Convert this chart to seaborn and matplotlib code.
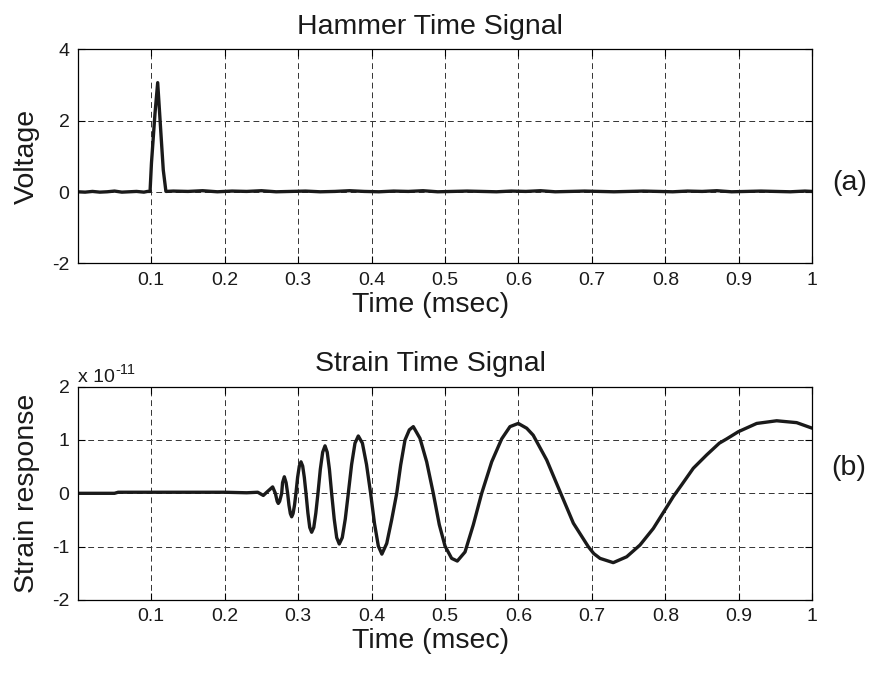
import matplotlib
matplotlib.use("Agg")
import matplotlib.pyplot as plt
import seaborn as sns
import pandas as pd

# ---------------- data ----------------
hammer_time = [0.0, 0.01, 0.02, 0.03, 0.04, 0.05, 0.06, 0.07, 0.08, 0.09, 0.095,
               0.0984, 0.1003, 0.1051, 0.1088, 0.1129, 0.1164, 0.120,
               0.13, 0.15, 0.17, 0.19, 0.21, 0.23, 0.25, 0.27, 0.29, 0.31, 0.33,
               0.35, 0.37, 0.39, 0.41, 0.43, 0.45, 0.47, 0.49, 0.51, 0.53, 0.55,
               0.57, 0.59, 0.61, 0.63, 0.65, 0.67, 0.69, 0.71, 0.73, 0.75, 0.77,
               0.79, 0.81, 0.83, 0.85, 0.87, 0.89, 0.91, 0.93, 0.95, 0.97, 0.99, 1.0]
hammer_volt = [0.01, 0.0, 0.02, 0.0, 0.01, 0.03, 0.0, 0.01, 0.02, 0.0, 0.02,
               0.02, 0.81, 2.2, 3.07, 1.74, 0.62, 0.02,
               0.03, 0.02, 0.04, 0.01, 0.03, 0.02, 0.04, 0.01, 0.02, 0.03, 0.01,
               0.02, 0.04, 0.02, 0.01, 0.03, 0.02, 0.04, 0.01, 0.02, 0.03, 0.02,
               0.01, 0.03, 0.02, 0.04, 0.01, 0.02, 0.03, 0.02, 0.01, 0.02, 0.03,
               0.02, 0.01, 0.03, 0.02, 0.04, 0.01, 0.02, 0.03, 0.02, 0.01, 0.03, 0.02]

strain_time = [0.0, 0.05, 0.055, 0.10, 0.15, 0.20, 0.23, 0.245, 0.2526, 0.258,
               0.2653, 0.269, 0.2715, 0.273, 0.2748, 0.2776, 0.2788, 0.2812, 0.2836,
               0.2857, 0.2875, 0.2894, 0.2912, 0.2931, 0.2951, 0.297,
               0.2993, 0.3016, 0.3039, 0.3062, 0.3084, 0.3107,
               0.3133, 0.3158, 0.3184, 0.3213, 0.3241, 0.327,
               0.3302, 0.3334, 0.3366, 0.3396, 0.3426, 0.3456,
               0.3491, 0.3525, 0.356, 0.3601, 0.3642, 0.3683,
               0.3728, 0.3774, 0.3819, 0.3875, 0.3931, 0.3987,
               0.4040, 0.4092, 0.4140, 0.4206, 0.4273, 0.4342,
               0.4396, 0.4455, 0.4514, 0.4568, 0.4659, 0.475, 0.484, 0.4922,
               0.5, 0.509, 0.5167, 0.5272, 0.5385, 0.5499, 0.5635, 0.5771,
               0.5884, 0.5997, 0.6112, 0.620, 0.6384, 0.6575, 0.6747, 0.695,
               0.7025, 0.711, 0.729, 0.7473, 0.7654, 0.7835, 0.7995, 0.8108,
               0.8222, 0.838, 0.8562, 0.8734, 0.8834, 0.8993, 0.9243, 0.9515,
               0.9787, 1.0]
strain_resp = [0.0, 0.0, 0.02, 0.02, 0.02, 0.02, 0.01, 0.02, -0.04, 0.03,
               0.12, 0.0, -0.15, -0.19, -0.15, 0.0, 0.2, 0.31, 0.2,
               0.0, -0.22, -0.38, -0.44, -0.38, -0.22, 0.0,
               0.30, 0.51, 0.59, 0.51, 0.30, 0.0,
               -0.37, -0.64, -0.73, -0.64, -0.37, 0.0,
               0.45, 0.77, 0.89, 0.77, 0.45, 0.0,
               -0.48, -0.83, -0.95, -0.83, -0.48, 0.0,
               0.54, 0.94, 1.075, 0.94, 0.54, 0.0,
               -0.57, -0.99, -1.14, -0.94, -0.5, 0.0,
               0.53, 1.0, 1.19, 1.25, 1.03, 0.59, 0.0, -0.59,
               -0.99, -1.22, -1.27, -1.1, -0.59, 0.0, 0.59, 1.02,
               1.25, 1.31, 1.22, 1.09, 0.625, 0.0, -0.56, -1.0,
               -1.13, -1.22, -1.30, -1.19, -0.97, -0.66, -0.31, -0.06,
               0.16, 0.47, 0.72, 0.94, 1.02, 1.155, 1.31, 1.36,
               1.325, 1.22]

x_ticks = [0.1, 0.2, 0.3, 0.4, 0.5, 0.6, 0.7, 0.8, 0.9, 1.0]
x_tick_labels = ["0.1", "0.2", "0.3", "0.4", "0.5", "0.6", "0.7", "0.8", "0.9", "1"]
top_y_ticks = [-2, 0, 2, 4]
bot_y_ticks = [-2, -1, 0, 1, 2]

# ---------------- style ----------------
sns.set_theme(style="white")
plt.rcParams["font.family"] = ["Liberation Sans", "DejaVu Sans"]

fig = plt.figure(figsize=(8.95, 6.73), dpi=100)
ax1 = fig.add_axes([0.0869, 0.6085, 0.8207, 0.318])
ax2 = fig.add_axes([0.0869, 0.1085, 0.8207, 0.317])

df1 = pd.DataFrame({"t": hammer_time, "v": hammer_volt})
df2 = pd.DataFrame({"t": strain_time, "s": strain_resp})

line_kw = dict(color="#1a1a1a", linewidth=2.4, estimator=None, sort=False)
sns.lineplot(data=df1, x="t", y="v", ax=ax1, **line_kw)
sns.lineplot(data=df2, x="t", y="s", ax=ax2, **line_kw)

LABEL_FS = 20.5
TICK_FS = 14
TEXT_X = 0.48  # horizontal centre of titles / x labels in axes fraction

for ax, yt, ylim, ylab, title in [
    (ax1, top_y_ticks, (-2, 4), "Voltage", "Hammer Time Signal"),
    (ax2, bot_y_ticks, (-2, 2), "Strain response", "Strain Time Signal"),
]:
    ax.set_xlim(0, 1)
    ax.set_ylim(*ylim)
    ax.set_xticks(x_ticks)
    ax.set_xticklabels(x_tick_labels)
    ax.set_yticks(yt)
    ax.set_yticklabels([str(v) for v in yt])
    ax.grid(True, color="#333333", linestyle=(0, (6, 4)), linewidth=0.7)
    ax.set_axisbelow(True)
    for sp in ax.spines.values():
        sp.set_visible(True)
        sp.set_color("black")
        sp.set_linewidth(0.9)
    ax.tick_params(direction="in", length=5, width=0.8, top=True, right=True,
                   bottom=True, left=True, labelsize=TICK_FS, pad=6,
                   colors="black", labelcolor="#1a1a1a")
    ax.set_xlabel("Time (msec)", fontsize=LABEL_FS, labelpad=2,
                  color="#1a1a1a", x=TEXT_X)
    ax.set_ylabel(ylab, fontsize=LABEL_FS, labelpad=9, color="#1a1a1a")
    ax.set_title(title, fontsize=LABEL_FS, pad=11, color="#1a1a1a", x=TEXT_X)

base = ax2.text(0.0, 1.003, "x 10", transform=ax2.transAxes, ha="left",
                va="bottom", fontsize=14, color="#1a1a1a")
ax2.annotate("-11", xy=(1, 0.55), xycoords=base, xytext=(0.5, 0),
             textcoords="offset points", ha="left", va="bottom",
             fontsize=10.5, color="#1a1a1a")

fig.text(850 / 895, 1 - 183 / 673, "(a)", ha="center", va="center",
         fontsize=LABEL_FS, color="#1a1a1a")
fig.text(849 / 895, 1 - 468 / 673, "(b)", ha="center", va="center",
         fontsize=LABEL_FS, color="#1a1a1a")

fig.savefig("out.png", dpi=100, facecolor="white")
